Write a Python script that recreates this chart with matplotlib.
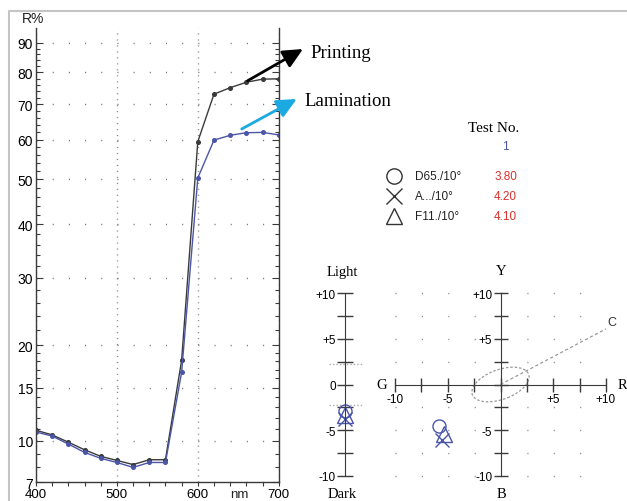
import numpy as np
import matplotlib
matplotlib.use("Agg")
import matplotlib.pyplot as plt
from matplotlib.patches import Ellipse
from matplotlib.ticker import FixedLocator, FuncFormatter

# spectral reflectance data
wavelength = [400, 420, 440, 460, 480, 500, 520, 540, 560, 580, 600, 620, 640, 660, 680, 700]
printing = [10.9, 10.5, 9.9, 9.3, 8.8, 8.5, 8.2, 8.55, 8.55, 18.1, 59.5, 73.1, 75.1, 76.8, 77.8, 77.9]
lamination = [10.75, 10.4, 9.75, 9.1, 8.65, 8.35, 8.0, 8.35, 8.35, 16.7, 50.3, 59.9, 61.2, 61.9, 62.0, 61.3]

# colour difference per illuminant
illuminants = ["D65./10°", "A.../10°", "F11./10°"]
delta_e = ["3.80", "4.20", "4.10"]
markers = ["o", "x", "^"]
d_light = [-2.9, -3.8, -3.3]
d_a = [-5.8, -5.5, -5.4]
d_b = [-4.6, -6.1, -5.4]
tolerance = 2.2
chroma_a = [0, 10]
chroma_b = [0, 6.1]

y_major = [7, 10, 15, 20, 30, 40, 50, 60, 70, 80, 90]
y_minor = [8, 9, 11, 12, 13, 14, 16, 17, 18, 19] + [v for v in range(22, 90, 2) if v % 10]
ab_ticks = [-10, -7.5, -5, -2.5, 0, 2.5, 5, 7.5, 10]

W, H = 627, 502
dark = "#3a3a3a"
blue = "#4b56a8"
sans_n = ["Liberation Sans Narrow", "Liberation Sans"]
serif = "Liberation Serif"
plt.rcParams["font.family"] = ["Liberation Sans", "DejaVu Sans"]


def box(x0, y0, x1, y1):
    return [x0 / W, 1 - y1 / H, (x1 - x0) / W, (y1 - y0) / H]


fig = plt.figure(figsize=(W / 100, H / 100), dpi=100)

# ---- spectral curve
ax = fig.add_axes(box(36, 29.3, 278.7, 483.3))
ax.set_yscale("function", functions=(np.cbrt, lambda v: np.power(v, 3)))
ax.set_xlim(400, 700)
ax.set_ylim(7, 95.2)
ax.yaxis.set_major_locator(FixedLocator(y_major))
ax.yaxis.set_minor_locator(FixedLocator(y_minor))
ax.yaxis.set_major_formatter(FuncFormatter(lambda v, p: f"{v:.0f}"))
ax.yaxis.set_minor_formatter(FuncFormatter(lambda v, p: ""))
ax.xaxis.set_major_locator(FixedLocator([400, 500, 600, 700]))
ax.xaxis.set_minor_locator(FixedLocator(list(range(420, 700, 20))))
ax.spines["top"].set_visible(False)
for s in ["left", "right", "bottom"]:
    ax.spines[s].set_color(dark)
    ax.spines[s].set_linewidth(1)
ax.tick_params(axis="y", which="both", direction="in", left=True, right=True, color=dark, width=0.8)
ax.tick_params(axis="y", which="major", length=5, labelsize=10, pad=2)
ax.tick_params(axis="y", which="minor", length=3)
ax.tick_params(axis="x", which="both", direction="out", length=3, color=dark, width=0.8)
ax.tick_params(axis="x", which="major", labelsize=9.5, pad=1)
for lab in ax.get_xticklabels() + ax.get_yticklabels():
    lab.set_family(sans_n)
ax.yaxis.grid(True, color="#777777", lw=1, linestyle=(0, (0.8, 10.85)))
ax.xaxis.grid(True, color="#888888", lw=1, linestyle=(0, (0.8, 3.5)))
ax.set_axisbelow(True)

ax.plot(wavelength, printing, color=dark, lw=1, marker="o", ms=2.6)
ax.plot(wavelength, lamination, color=blue, lw=1, marker="o", ms=2.6)

# ---- lightness axis
axl = fig.add_axes(box(335, 294.3, 355, 476.7))
axl.set_xlim(-1, 1)
axl.set_ylim(-10, 10)
axl.patch.set_visible(False)
for s in ["top", "right", "bottom"]:
    axl.spines[s].set_visible(False)
axl.spines["left"].set_position(("data", 0))
axl.spines["left"].set_color(dark)
axl.set_xticks([])
axl.yaxis.set_major_locator(FixedLocator(ab_ticks))
axl.yaxis.set_major_formatter(FuncFormatter(
    lambda v, p: ("0" if v == 0 else f"{v:+.0f}") if v % 5 == 0 else ""))
axl.tick_params(axis="y", direction="inout", length=11, width=1, color=dark, labelsize=8.5, pad=1)
axl.plot([-1.6, 1.8], [tolerance, tolerance], color="#aaaaaa", lw=1, ls=(0, (1, 1.5)), clip_on=False)
axl.plot([-1.6, 1.8], [-tolerance, -tolerance], color="#aaaaaa", lw=1, ls=(0, (1, 1.5)), clip_on=False)

# ---- a/b diagram
axab = fig.add_axes(box(395, 294.3, 606, 476.7))
axab.set_xlim(-10, 10)
axab.set_ylim(-10, 10)
axab.patch.set_visible(False)
axab.spines["top"].set_visible(False)
axab.spines["right"].set_visible(False)
axab.spines["left"].set_position(("data", 0))
axab.spines["bottom"].set_position(("data", 0))
for s in ["left", "bottom"]:
    axab.spines[s].set_color(dark)
ab_fmt = FuncFormatter(lambda v, p: f"{v:+.0f}" if v != 0 and v % 5 == 0 else "")
axab.xaxis.set_major_locator(FixedLocator(ab_ticks))
axab.yaxis.set_major_locator(FixedLocator(ab_ticks))
axab.xaxis.set_major_formatter(ab_fmt)
axab.yaxis.set_major_formatter(ab_fmt)
axab.tick_params(axis="both", direction="inout", length=10, width=1, color=dark, labelsize=8.5, pad=1)
axab.yaxis.grid(True, color="#888888", lw=1, linestyle=(0, (0.8, 18.19)))
for gl in axab.get_ygridlines():
    gl.set_clip_on(False)
axab.set_axisbelow(True)

axab.add_patch(Ellipse((0, 0), 5.8, 3.2, angle=25, fill=False, ec="#999999", lw=0.9, ls=(0, (2, 1.5))))
axab.plot(chroma_a, chroma_b, color="#999999", lw=0.9, ls=(0, (2.5, 2)))

for m, l, a, b in zip(markers, d_light, d_a, d_b):
    ms = {"o": 9.4, "x": 10.5, "^": 11}[m]
    axl.plot(0, l, marker=m, ms=ms, mfc="none", mec=blue, mew=1, clip_on=False)
    axab.plot(a, b, marker=m, ms=ms, mfc="none", mec=blue, mew=1, clip_on=False)

# ---- overlay in pixel coordinates for texts, frame and arrows
ov = fig.add_axes([0, 0, 1, 1])
ov.set_xlim(0, W)
ov.set_ylim(H, 0)
ov.axis("off")
ov.plot([9, 9, W], [H, 12, 12], color="#c4c4c4", lw=1.5)

ov.text(22, 19, "R%", family=sans_n, fontsize=10, ha="left", va="center", color="#222222")
ov.text(239, 495, "nm", family=sans_n, fontsize=9.5, ha="center", va="center", color="#222222")

ov.annotate("", xy=(303, 50), xytext=(247.7, 81.7),
            arrowprops=dict(arrowstyle="-|>,head_length=0.8,head_width=0.38", mutation_scale=15,
                            color="black", lw=2, shrinkA=0, shrinkB=0))
ov.annotate("", xy=(296.7, 100), xytext=(241.7, 130),
            arrowprops=dict(arrowstyle="-|>,head_length=0.8,head_width=0.38", mutation_scale=15,
                            color="#1ba9e1", lw=2, shrinkA=0, shrinkB=0))
ov.text(310, 53, "Printing", family=serif, fontsize=13.5, ha="left", va="center")
ov.text(304, 102, "Lamination", family=serif, fontsize=13.5, ha="left", va="center")

ov.text(494, 128, "Test No.", family=serif, fontsize=11, ha="center", va="center")
ov.text(505, 147, "1", fontsize=8.5, ha="center", va="center", color=blue)
for i, (name, de, m) in enumerate(zip(illuminants, delta_e, markers)):
    y = 177 + i * 20
    ms = {"o": 11, "x": 11.5, "^": 12}[m]
    ov.plot(394.3, y, marker=m, ms=ms, mfc="none", mec="#333333", mew=1)
    ov.text(415, y, name, fontsize=8.5, ha="left", va="center", color="#222222")
    ov.text(505.5, y, de, fontsize=8.5, ha="center", va="center", color="#d9302c")

ov.text(342, 273, "Light", family=serif, fontsize=10.5, ha="center", va="center")
ov.text(342, 495, "Dark", family=serif, fontsize=10.5, ha="center", va="center")
ov.text(501, 272, "Y", family=serif, fontsize=10.5, ha="center", va="center")
ov.text(501, 495, "B", family=serif, fontsize=10.5, ha="center", va="center")
ov.text(382, 386, "G", family=serif, fontsize=10.5, ha="center", va="center")
ov.text(622, 386, "R", family=serif, fontsize=10.5, ha="center", va="center")
ov.text(612, 323, "C", fontsize=9, ha="center", va="center", color="#333333")

fig.savefig("out.png", dpi=100)
